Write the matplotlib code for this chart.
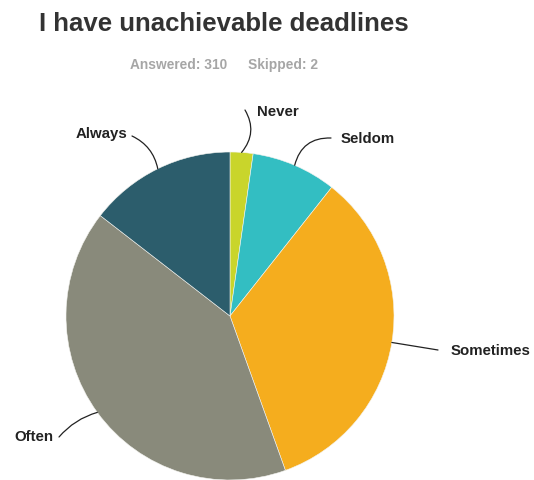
import matplotlib
matplotlib.use("Agg")
import matplotlib.pyplot as plt
import numpy as np

categories = ["Never", "Seldom", "Sometimes", "Often", "Always"]
counts = [7, 26, 105, 127, 45]
colors = ["#c9d52b", "#33bec2", "#f5ad1e", "#898a7b", "#2c5d6c"]
title = "I have unachievable deadlines"
answered_text = "Answered: 310"
skipped_text = "Skipped: 2"

W, H = 534, 480
fig = plt.figure(figsize=(W / 100, H / 100), dpi=100)
ax = fig.add_axes([0, 0, 1, 1])
plt.rcParams['font.family'] = ['Liberation Sans', 'DejaVu Sans']

cx, cy, r = 230, 480 - 316, 164
wedges, _ = ax.pie(counts, colors=colors, startangle=90, counterclock=False,
                   center=(cx, cy), radius=r,
                   wedgeprops=dict(edgecolor="#f4f4f0", linewidth=0.4))
ax.set_xlim(0, W)
ax.set_ylim(0, H)
ax.set_aspect("equal")
ax.axis("off")

ax.text(39, H - 24, title, fontsize=18.5, fontweight="bold", color="#333333",
        va="center", ha="left")
ax.text(130, H - 65, answered_text, fontsize=9.9, fontweight="bold", color="#a6a6a6",
        va="center", ha="left")
ax.text(248, H - 65, skipped_text, fontsize=9.9, fontweight="bold", color="#a6a6a6",
        va="center", ha="left")

# label placement (text position, alignment, curvature)
label_layout = {
    "Never": ((257, H - 112), "left", -0.35),
    "Seldom": ((341, H - 139), "left", 0.4),
    "Sometimes": ((451, H - 351), "left", 0.0),
    "Often": ((53, H - 437), "right", -0.15),
    "Always": ((127, H - 134), "right", -0.25),
}
end_offsets = {
    "Never": (-12, 2),
    "Seldom": (-10, 1),
    "Sometimes": (-13, 1),
    "Often": (6, 0),
    "Always": (5, -2),
}

for w, name in zip(wedges, categories):
    ang = np.deg2rad((w.theta1 + w.theta2) / 2)
    px = cx + r * np.cos(ang)
    py = cy + r * np.sin(ang)
    (tx, ty), ha, rad = label_layout[name]
    ox, oy = end_offsets[name]
    ax.annotate("", xy=(px, py), xytext=(tx + ox, ty + oy),
                arrowprops=dict(arrowstyle="-", color="#222222", lw=0.9,
                                connectionstyle=f"arc3,rad={rad}",
                                shrinkA=0, shrinkB=0))
    ax.text(tx, ty, name, fontsize=10.8, fontweight="bold", color="#222222",
            ha=ha, va="center")

fig.savefig("out.png", dpi=100)
